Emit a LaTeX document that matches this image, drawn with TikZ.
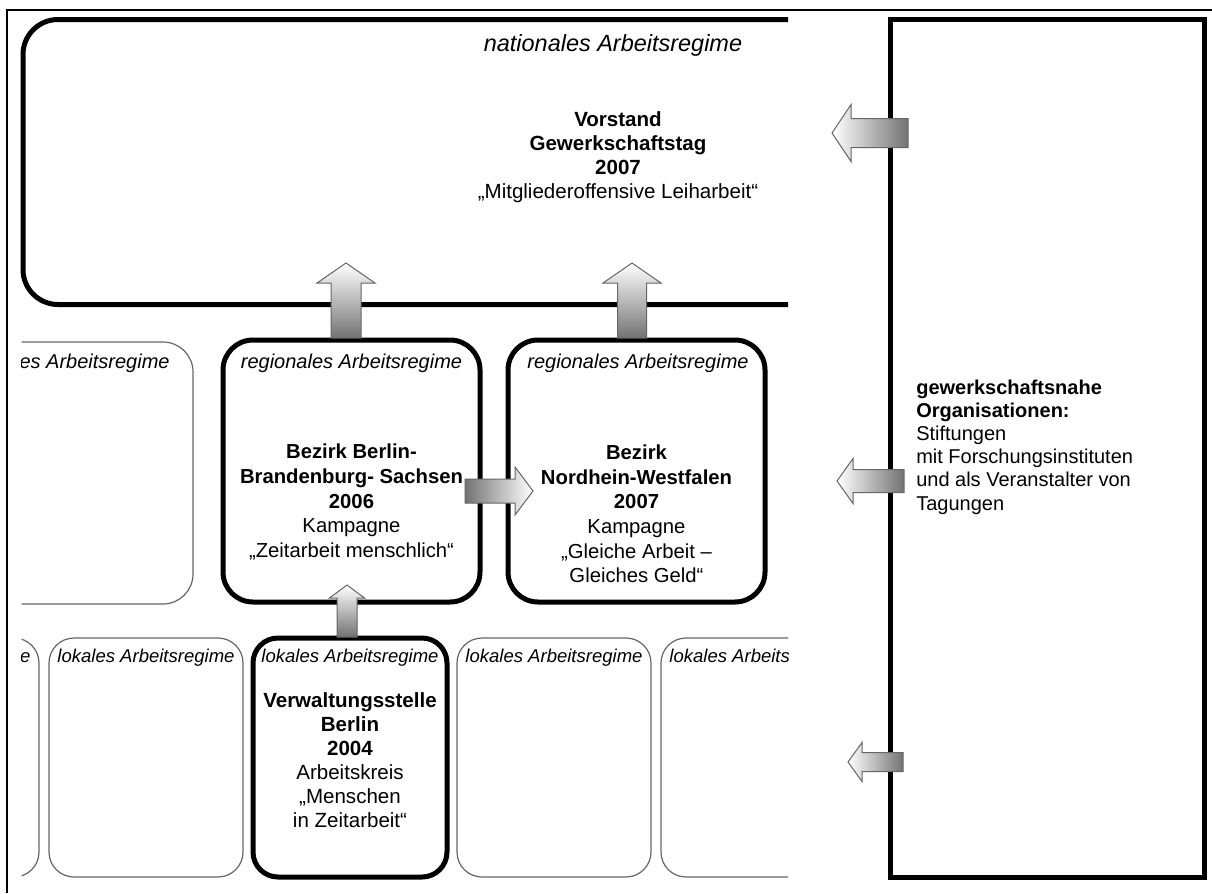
\documentclass[tikz,border=0pt]{standalone}
\usepackage{fontspec}
\setmainfont{Liberation Sans}
\newcommand\arrUp[6]{% cx, tip y, head base y, head half, shaft half, bottom y
  \shadedraw[arrowline, top color=white, bottom color=black!55] (#1,#2) -- ({#1+#4},#3) -- ({#1+#5},#3) -- ({#1+#5},#6) -- ({#1-#5},#6) -- ({#1-#5},#3) -- ({#1-#4},#3) -- cycle;}
\newcommand\arrLeft[6]{% tip x, cy, head base x, head half, shaft half, end x
  \shadedraw[arrowline, left color=white, right color=black!55] (#1,#2) -- (#3,{#2-#4}) -- (#3,{#2-#5}) -- (#6,{#2-#5}) -- (#6,{#2+#5}) -- (#3,{#2+#5}) -- (#3,{#2+#4}) -- cycle;}
\newcommand\arrRight[6]{% tip x, cy, head base x, head half, shaft half, tail x
  \shadedraw[arrowline, left color=black!55, right color=white] (#1,#2) -- (#3,{#2-#4}) -- (#3,{#2-#5}) -- (#6,{#2-#5}) -- (#6,{#2+#5}) -- (#3,{#2+#5}) -- (#3,{#2+#4}) -- cycle;}
\begin{document}
\begin{tikzpicture}[x=0.75pt,y=-0.75pt,
  arrowline/.style={draw=black!60, line width=0.75pt},
  heavy/.style={draw=black, line width=3.75pt, rectangle, inner sep=0pt},
  light/.style={draw=black!60, line width=0.9pt, rectangle, inner sep=0pt},
  regbox/.style={minimum width=192.75pt, minimum height=196.5pt, rounded corners=22.5pt},
  locbox/.style={minimum width=145.5pt, minimum height=179.25pt, rounded corners=18.75pt},
  nattitle/.style={font=\fontsize{17.6}{20}\selectfont\itshape, inner sep=0pt},
  regtitle/.style={font=\fontsize{15}{18}\selectfont\itshape, inner sep=0pt},
  loctitle/.style={font=\fontsize{13.9}{16}\selectfont\itshape, inner sep=0pt},
  natbody/.style={font=\fontsize{15.4}{18}\selectfont, align=center, inner sep=0pt},
  regbody/.style={font=\fontsize{15.2}{18.5}\selectfont, align=center, inner sep=0pt},
  locbody/.style={font=\fontsize{15.4}{18}\selectfont, align=center, inner sep=0pt},
  orgbody/.style={font=\fontsize{15}{17.4}\selectfont, align=left, inner sep=0pt, anchor=west}
]
\useasboundingbox (0,0) rectangle (1212,893);
\fill[white] (0,0) rectangle (1212,893);
% outer frame
\draw[line width=1.5pt] (7,893) -- (7,10) -- (1212,10);

% national level (cut on the right)
\begin{scope}
  \clip (0,0) rectangle (788,893);
  \node[heavy, minimum width=889.5pt, minimum height=213.75pt, rounded corners=26.25pt] (nat) at (616,162) {};
\end{scope}
\node[nattitle] (natT) at (613,45) {nationales Arbeitsregime};
\node[natbody] (natB) at (618,157) {\textbf{Vorstand}\\\textbf{Gewerkschaftstag}\\\textbf{2007}\\„Mitgliederoffensive Leiharbeit“};

% right panel
\node[heavy, minimum width=235.5pt, minimum height=643.5pt] (orgs) at (1047,448) {};
\node[orgbody] (orgsT) at (916,447) {\textbf{gewerkschaftsnahe}\\\textbf{Organisationen:}\\Stiftungen\\mit Forschungsinstituten\\und als Veranstalter von\\Tagungen};

% regional and local rows (cut at both sides)
\begin{scope}
  \clip (21.7,0) rectangle (788,893);
  \node[light, regbox] (reg0) at (64.5,473) {};
  \node[regtitle] (reg0T) at (59,363) {regionales Arbeitsregime};
  \node[light, locbox] (loc0) at (-58,757.5) {};
  \node[loctitle] (loc0T) at (-58,658) {lokales Arbeitsregime};
  \node[light, locbox] (loc4) at (758,757.5) {};
  \node[loctitle] (loc4T) at (758,658) {lokales Arbeitsregime};
\end{scope}
\node[heavy, regbox] (reg1) at (351.5,471) {};
\node[heavy, regbox] (reg2) at (636.5,471) {};
\node[regtitle] (reg1T) at (351.5,363) {regionales Arbeitsregime};
\node[regtitle] (reg2T) at (638,363) {regionales Arbeitsregime};
\node[regbody] (reg1B) at (351.5,502) {\textbf{Bezirk Berlin-}\\\textbf{Brandenburg- Sachsen}\\\textbf{2006}\\Kampagne\\„Zeitarbeit menschlich“};
\node[regbody] (reg2B) at (636.5,514) {\textbf{Bezirk}\\\textbf{Nordhein-Westfalen}\\\textbf{2007}\\Kampagne\\„Gleiche Arbeit –\\Gleiches Geld“};

\node[light, locbox] (loc1) at (146,757.5) {};
\node[heavy, locbox] (loc2) at (350,757.5) {};
\node[light, locbox] (loc3) at (554,757.5) {};
\node[loctitle] (loc1T) at (146,658) {lokales Arbeitsregime};
\node[loctitle] (loc2T) at (350,658) {lokales Arbeitsregime};
\node[loctitle] (loc3T) at (554,658) {lokales Arbeitsregime};
\node[locbody] (loc2B) at (350,760) {\textbf{Verwaltungsstelle}\\\textbf{Berlin}\\\textbf{2004}\\Arbeitskreis\\„Menschen\\in Zeitarbeit“};

% block arrows
\arrUp{346}{263}{283}{29}{15}{338}
\arrUp{632}{263}{283}{29}{14.5}{338}
\arrUp{347}{585}{598}{17.5}{10}{637}
\arrRight{533}{491}{515}{24}{12}{465}
\arrLeft{832}{133}{851}{28.5}{14.5}{908}
\arrLeft{837}{481}{853}{22.5}{11.5}{904}
\arrLeft{848}{762}{862}{19.5}{9.5}{903}
\end{tikzpicture}
\end{document}
